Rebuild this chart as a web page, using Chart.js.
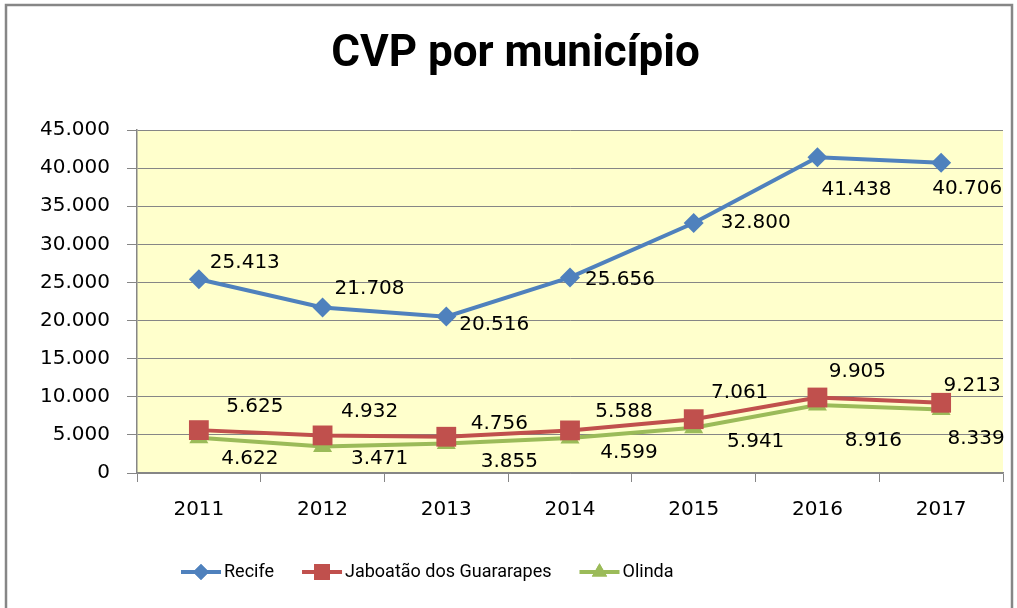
<!DOCTYPE html>
<html>
<head>
<meta charset="utf-8">
<script src="https://cdn.jsdelivr.net/npm/chart.js@4/dist/chart.umd.min.js"></script>
<style>
html,body{margin:0;padding:0;background:#fff;}
#wrap{width:1017px;height:608px;position:relative;}
</style>
</head>
<body>
<div id="wrap"><canvas id="c" width="1017" height="608"></canvas></div>
<script>
const categories = ['2011','2012','2013','2014','2015','2016','2017'];
const recife = [25413, 21708, 20516, 25656, 32800, 41438, 40706];
const jaboatao = [5625, 4932, 4756, 5588, 7061, 9905, 9213];
const olinda = [4622, 3471, 3855, 4599, 5941, 8916, 8339];
const seriesNames = ['Recife', 'Jaboatão dos Guararapes', 'Olinda'];
const titleText = 'CVP por município';
const yMin = 0, yMax = 45000, yStep = 5000;

// label offsets (pixels) relative to each point, per series
const labelOffsets = [
  [[46,-16],[47,-19],[48,8],[50,2],[62,0],[39,33],[26,26]],
  [[56,-23],[47,-24],[53,-13],[54,-19],[46,-26],[40,-26],[31,-17]],
  [[51,21],[57,12],[63,18],[59,15],[62,14],[56,36],[35,29]]
];

const fmt = v => String(Math.round(v)).replace(/\B(?=(\d{3})+(?!\d))/g, '.');
const NUM_FONT = '20px "DejaVu Sans"';
const colors = ['#4F81BD', '#C0504D', '#9BBB59'];

const bgPlugin = {
  id: 'bg',
  beforeDraw(chart) {
    const {ctx, chartArea: a} = chart;
    ctx.save();
    ctx.fillStyle = '#FFFFCC';
    ctx.fillRect(a.left, a.top, a.right - a.left, a.bottom - a.top);
    ctx.restore();
  },
  afterDraw(chart) {
    const ctx = chart.ctx;
    ctx.save();
    ctx.strokeStyle = '#868686';
    ctx.lineWidth = 2.5;
    ctx.strokeRect(6, 5, 1006, 640);
    ctx.restore();
  }
};

const labelPlugin = {
  id: 'dlabels',
  afterDatasetsDraw(chart) {
    const ctx = chart.ctx;
    ctx.save();
    ctx.font = NUM_FONT;
    ctx.fillStyle = '#000';
    ctx.textAlign = 'center';
    ctx.textBaseline = 'middle';
    chart.data.datasets.forEach((ds, di) => {
      const meta = chart.getDatasetMeta(di);
      meta.data.forEach((pt, i) => {
        const off = labelOffsets[di][i];
        ctx.fillText(fmt(ds.data[i]), pt.x + off[0], pt.y + off[1]);
      });
    });
    ctx.restore();
  }
};

const legendPlugin = {
  id: 'customLegend',
  afterDraw(chart) {
    const ctx = chart.ctx;
    const y = 572;
    let x0 = 181;
    ctx.save();
    ctx.font = '18px "Roboto"';
    ctx.textBaseline = 'middle';
    chart.data.datasets.forEach((ds, di) => {
      ctx.strokeStyle = ds.borderColor;
      ctx.lineWidth = 4;
      ctx.beginPath();
      ctx.moveTo(x0, y);
      ctx.lineTo(x0 + 40, y);
      ctx.stroke();
      ctx.fillStyle = ds.borderColor;
      ctx.beginPath();
      Chart.helpers.drawPoint(ctx, {pointStyle: ds.pointStyle, radius: ds.pointRadius * 0.8, rotation: 0, borderWidth: 0}, x0 + 20, y);
      ctx.fill();
      ctx.fillStyle = '#000';
      ctx.fillText(ds.label, x0 + 43, y);
      x0 += 43 + ctx.measureText(ds.label).width + 28;
    });
    ctx.restore();
  }
};

const pointStyles = ['rectRot', 'rect', 'triangle'];
const pointRadii = [10, 14, 11];
const seriesData = [recife, jaboatao, olinda];

new Chart(document.getElementById('c'), {
  type: 'line',
  data: {
    labels: categories,
    datasets: seriesData.map((d, i) => ({
      label: seriesNames[i],
      data: d,
      borderColor: colors[i],
      backgroundColor: colors[i],
      pointBackgroundColor: colors[i],
      pointBorderColor: colors[i],
      pointBorderWidth: 0,
      borderWidth: 4,
      pointStyle: pointStyles[i],
      pointRadius: pointRadii[i],
      pointHoverRadius: pointRadii[i],
      tension: 0,
      fill: false
    }))
  },
  options: {
    responsive: false,
    animation: false,
    devicePixelRatio: 1,
    layout: { padding: { left: 26, right: 12, top: 0, bottom: 0 } },
    plugins: {
      legend: { display: false },
      tooltip: { enabled: false },
      title: {
        display: true,
        text: titleText,
        color: '#000',
        font: { family: '"Roboto"', size: 44, weight: 'bold', lineHeight: 1.2 },
        padding: { top: 28.2, bottom: 49 }
      }
    },
    scales: {
      x: {
        offset: true,
        grid: { offset: true, drawOnChartArea: false, drawTicks: true, tickLength: 9, color: '#868686', lineWidth: 1 },
        border: { color: '#868686', width: 1.5 },
        ticks: { color: '#000', font: { family: '"DejaVu Sans"', size: 20 }, padding: 16, maxRotation: 0 },
        afterFit(scale) { scale.height = 135; }
      },
      y: {
        min: yMin, max: yMax,
        grid: { color: '#868686', lineWidth: 1, tickLength: 10, drawTicks: true },
        border: { color: '#868686', width: 1.5 },
        ticks: { stepSize: yStep, color: '#000', font: { family: '"DejaVu Sans"', size: 20 }, padding: 17, callback: v => fmt(v) },
        afterFit(scale) { scale.width = 111; }
      }
    }
  },
  plugins: [bgPlugin, labelPlugin, legendPlugin]
});
</script>
</body>
</html>
